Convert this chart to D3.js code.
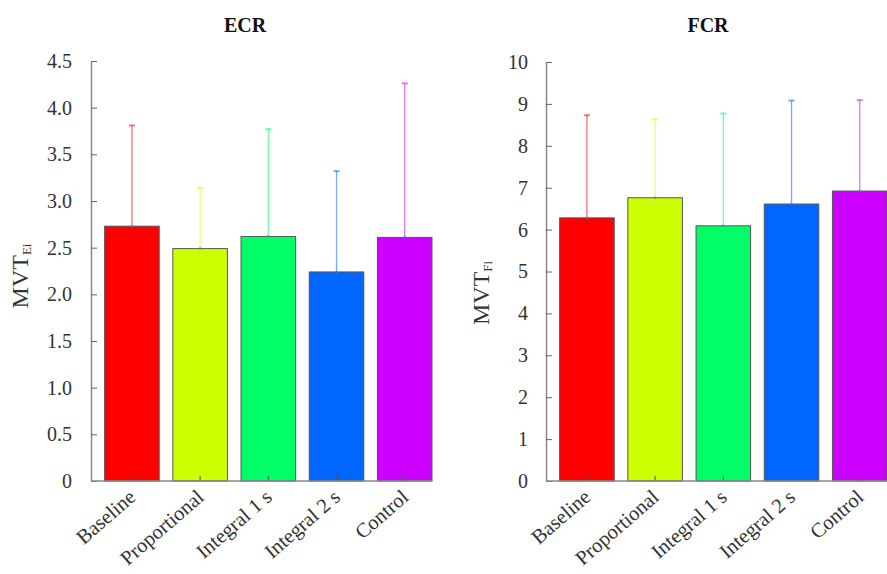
<!DOCTYPE html>
<html>
<head>
<meta charset="utf-8">
<script src="https://cdn.jsdelivr.net/npm/d3@7"></script>
<style>
  body { margin: 0; background: #fff; }
  text { font-family: "Liberation Serif", "Times New Roman", serif; }
</style>
</head>
<body>
<div class="chart"></div>
<script>
var svgWidth = 887;
var svgHeight = 574;

// categories and colours
var conditions = ["Baseline", "Proportional", "Integral 1 s", "Integral 2 s", "Control"];
var barColors = ["#ff0000", "#ccff00", "#00ff66", "#0066ff", "#cc00ff"];

// ECR panel: means and upper error (SD)
var ecrMeans = [2.73, 2.49, 2.62, 2.24, 2.61];
var ecrSD = [1.08, 0.65, 1.15, 1.08, 1.65];
var ecrTicks = [0, 0.5, 1, 1.5, 2, 2.5, 3, 3.5, 4, 4.5];

// FCR panel
var fcrMeans = [6.28, 6.76, 6.09, 6.61, 6.92];
var fcrSD = [2.45, 1.87, 2.68, 2.47, 2.17];
var fcrTicks = [0, 1, 2, 3, 4, 5, 6, 7, 8, 9, 10];

var svg = d3.select(".chart")
  .append("svg")
  .attr("width", svgWidth)
  .attr("height", svgHeight);

// draws one bar panel
function drawPanel(opts) {
  var left = opts.left, right = opts.right;
  var top = opts.top, bottom = 481;
  var step = (right - left) / 5;

  var x = d3.scaleBand()
    .domain(conditions)
    .range([left + 0.1 * step, right + 0.1 * step])
    .paddingInner(0.2)
    .paddingOuter(0.1);

  var y = d3.scaleLinear()
    .domain([0, opts.max])
    .range([bottom, top]);

  var g = svg.append("g");

  // bars
  g.selectAll("rect.bar")
    .data(opts.means)
    .enter()
    .append("rect")
    .attr("class", "bar")
    .attr("x", (d, i) => x(conditions[i]))
    .attr("y", d => y(d))
    .attr("width", x.bandwidth())
    .attr("height", d => bottom - y(d))
    .attr("fill", (d, i) => barColors[i])
    .attr("stroke", "#555")
    .attr("stroke-width", 1);

  // error bars (upper only)
  var err = g.selectAll("g.err")
    .data(opts.means)
    .enter()
    .append("g")
    .attr("class", "err")
    .attr("stroke", (d, i) => barColors[i])
    .attr("stroke-opacity", 0.55)
    .attr("stroke-width", 1.3);

  err.append("line")
    .attr("x1", (d, i) => x(conditions[i]) + x.bandwidth() / 2)
    .attr("x2", (d, i) => x(conditions[i]) + x.bandwidth() / 2)
    .attr("y1", d => y(d))
    .attr("y2", (d, i) => y(d + opts.sd[i]));

  err.append("line")
    .attr("x1", (d, i) => x(conditions[i]) + x.bandwidth() / 2 - 3)
    .attr("x2", (d, i) => x(conditions[i]) + x.bandwidth() / 2 + 3)
    .attr("y1", (d, i) => y(d + opts.sd[i]))
    .attr("y2", (d, i) => y(d + opts.sd[i]))
    .attr("stroke-width", 2);

  // small marker at mean
  g.selectAll("circle.mean")
    .data(opts.means)
    .enter()
    .append("circle")
    .attr("cx", (d, i) => x(conditions[i]) + x.bandwidth() / 2)
    .attr("cy", d => y(d))
    .attr("r", 1.3)
    .attr("fill", "#3f86c4")
    .attr("opacity", 0.8);

  // y axis, ticks pointing inward
  var leftAxis = d3.axisLeft(y)
    .tickValues(opts.ticks)
    .tickFormat(opts.format)
    .tickSizeInner(-6)
    .tickSizeOuter(0)
    .tickPadding(opts.pad);

  var yAxis = g.append("g")
    .attr("transform", `translate(${left}, 0)`)
    .call(leftAxis)
    .attr("font-family", null)
    .attr("font-size", 20);
  yAxis.select(".domain").attr("stroke", "#888").attr("stroke-width", 1.5);
  yAxis.selectAll(".tick line").attr("stroke", "#666");
  yAxis.selectAll("text")
    .attr("fill", "#333");

  // x axis
  var bottomAxis = d3.axisBottom(x)
    .tickSizeInner(-5)
    .tickSizeOuter(0);

  var xAxis = g.append("g")
    .attr("transform", `translate(0, ${bottom})`)
    .call(bottomAxis)
    .attr("font-family", null)
    .attr("font-size", 20.5);
  xAxis.select(".domain").remove();
  xAxis.selectAll(".tick line").attr("stroke", "#555");
  xAxis.selectAll("text")
    .attr("fill", "#333")
    .attr("x", 0)
    .attr("y", 0)
    .attr("dy", 0)
    .attr("text-anchor", "end")
    .attr("transform", "translate(5, 18) rotate(-41)");

  g.append("line")
    .attr("x1", left)
    .attr("x2", right)
    .attr("y1", bottom)
    .attr("y2", bottom)
    .attr("stroke", "#888")
    .attr("stroke-width", 1.5);

  // title
  svg.append("text")
    .attr("x", opts.titleX)
    .attr("y", 32)
    .attr("text-anchor", "middle")
    .attr("font-size", 20)
    .attr("font-weight", "bold")
    .attr("fill", "#111")
    .text(opts.title);

  // y label with subscript
  var yl = svg.append("text")
    .attr("transform", `translate(${opts.labelX}, ${opts.labelY}) rotate(-90)`)
    .attr("text-anchor", "middle")
    .attr("font-size", 24)
    .attr("fill", "#333");
  yl.append("tspan").text("MVT");
  yl.append("tspan")
    .attr("font-size", 13)
    .attr("dy", 3)
    .text(opts.sub);
}

drawPanel({
  left: 91, right: 432, top: 61, max: 4.5, pad: 19,
  means: ecrMeans, sd: ecrSD, ticks: ecrTicks,
  format: d => d === 0 ? "0" : d3.format(".1f")(d),
  title: "ECR", titleX: 245,
  labelX: 28, labelY: 276, sub: "Ei"
});

drawPanel({
  left: 546, right: 887, top: 62, max: 10, pad: 18,
  means: fcrMeans, sd: fcrSD, ticks: fcrTicks,
  format: d3.format("d"),
  title: "FCR", titleX: 708,
  labelX: 489, labelY: 293, sub: "Fi"
});
</script>
</body>
</html>
